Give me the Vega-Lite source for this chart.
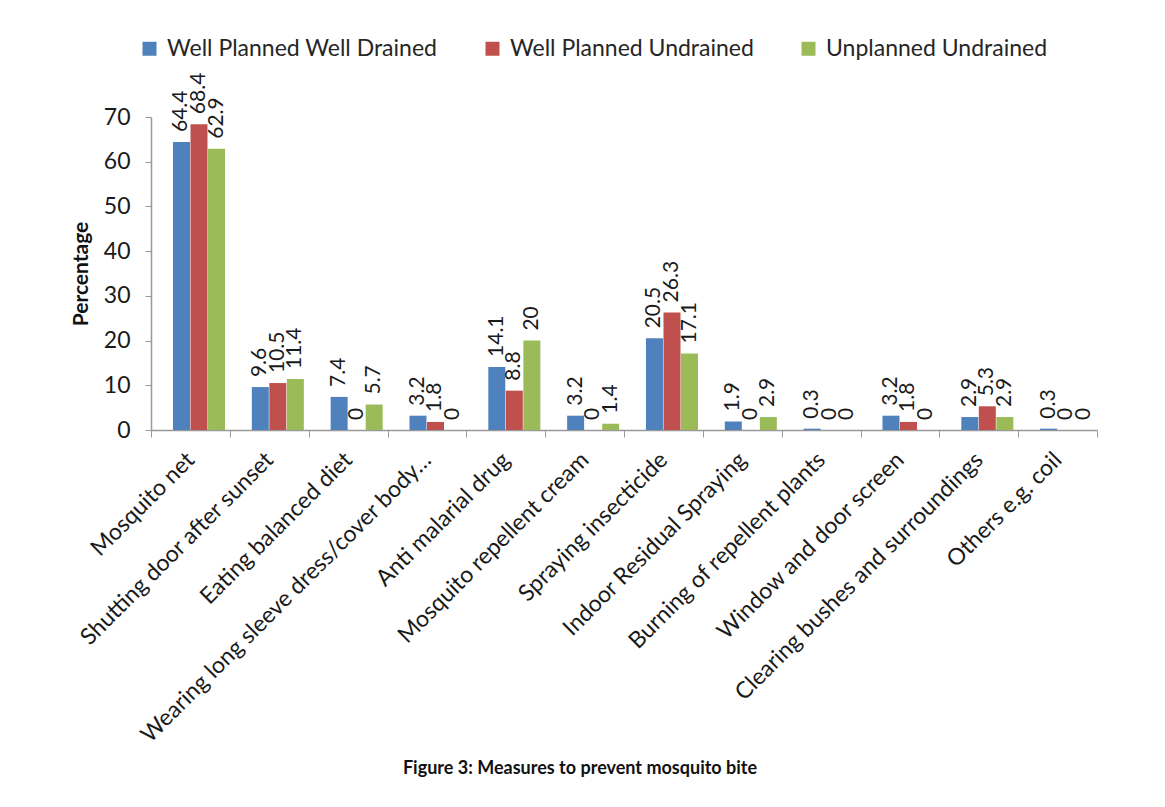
{
  "$schema": "https://vega.github.io/schema/vega-lite/v6.json",
  "width": 946,
  "height": 313,
  "autosize": {"type": "none"},
  "padding": {"left": 151, "top": 117, "right": 68, "bottom": 377},
  "background": "white",
  "config": {
    "font": "Lato",
    "view": {"stroke": null}
  },
  "title": {
    "text": "Figure 3:  Measures to prevent mosquito bite",
    "orient": "bottom",
    "anchor": "middle",
    "fontSize": 18,
    "fontWeight": "bold",
    "color": "#111",
    "offset": 13,
    "dx": -44
  },
  "data": {
    "values": [
      {"measure": "Mosquito net", "area": "Well Planned Well Drained", "value": 64.4},
      {"measure": "Mosquito net", "area": "Well Planned Undrained", "value": 68.4},
      {"measure": "Mosquito net", "area": "Unplanned Undrained", "value": 62.9},
      {"measure": "Shutting door after sunset", "area": "Well Planned Well Drained", "value": 9.6},
      {"measure": "Shutting door after sunset", "area": "Well Planned Undrained", "value": 10.5},
      {"measure": "Shutting door after sunset", "area": "Unplanned Undrained", "value": 11.4},
      {"measure": "Eating balanced diet", "area": "Well Planned Well Drained", "value": 7.4},
      {"measure": "Eating balanced diet", "area": "Well Planned Undrained", "value": 0},
      {"measure": "Eating balanced diet", "area": "Unplanned Undrained", "value": 5.7},
      {"measure": "Wearing long sleeve dress/cover body…", "area": "Well Planned Well Drained", "value": 3.2},
      {"measure": "Wearing long sleeve dress/cover body…", "area": "Well Planned Undrained", "value": 1.8},
      {"measure": "Wearing long sleeve dress/cover body…", "area": "Unplanned Undrained", "value": 0},
      {"measure": "Anti malarial drug", "area": "Well Planned Well Drained", "value": 14.1},
      {"measure": "Anti malarial drug", "area": "Well Planned Undrained", "value": 8.8},
      {"measure": "Anti malarial drug", "area": "Unplanned Undrained", "value": 20},
      {"measure": "Mosquito repellent cream", "area": "Well Planned Well Drained", "value": 3.2},
      {"measure": "Mosquito repellent cream", "area": "Well Planned Undrained", "value": 0},
      {"measure": "Mosquito repellent cream", "area": "Unplanned Undrained", "value": 1.4},
      {"measure": "Spraying insecticide", "area": "Well Planned Well Drained", "value": 20.5},
      {"measure": "Spraying insecticide", "area": "Well Planned Undrained", "value": 26.3},
      {"measure": "Spraying insecticide", "area": "Unplanned Undrained", "value": 17.1},
      {"measure": "Indoor Residual Spraying", "area": "Well Planned Well Drained", "value": 1.9},
      {"measure": "Indoor Residual Spraying", "area": "Well Planned Undrained", "value": 0},
      {"measure": "Indoor Residual Spraying", "area": "Unplanned Undrained", "value": 2.9},
      {"measure": "Burning of repellent plants", "area": "Well Planned Well Drained", "value": 0.3},
      {"measure": "Burning of repellent plants", "area": "Well Planned Undrained", "value": 0},
      {"measure": "Burning of repellent plants", "area": "Unplanned Undrained", "value": 0},
      {"measure": "Window and door screen", "area": "Well Planned Well Drained", "value": 3.2},
      {"measure": "Window and door screen", "area": "Well Planned Undrained", "value": 1.8},
      {"measure": "Window and door screen", "area": "Unplanned Undrained", "value": 0},
      {"measure": "Clearing bushes and surroundings", "area": "Well Planned Well Drained", "value": 2.9},
      {"measure": "Clearing bushes and surroundings", "area": "Well Planned Undrained", "value": 5.3},
      {"measure": "Clearing bushes and surroundings", "area": "Unplanned Undrained", "value": 2.9},
      {"measure": "Others e.g. coil", "area": "Well Planned Well Drained", "value": 0.3},
      {"measure": "Others e.g. coil", "area": "Well Planned Undrained", "value": 0},
      {"measure": "Others e.g. coil", "area": "Unplanned Undrained", "value": 0}
    ]
  },
  "encoding": {
    "x": {
      "field": "measure",
      "type": "nominal",
      "sort": null,
      "scale": {"paddingInner": 0, "paddingOuter": 0},
      "axis": {
        "title": null,
        "labelAngle": -45,
        "labelAlign": "right",
        "labelBaseline": "middle",
        "labelFontSize": 23,
        "labelColor": "#1a1a1a",
        "labelPadding": 19,
        "labelLimit": 600,
        "tickBand": "extent",
        "tickSize": 7,
        "tickColor": "#999",
        "domainColor": "#999",
        "domainWidth": 1.5
      }
    },
    "xOffset": {
      "field": "area",
      "type": "nominal",
      "sort": ["Well Planned Well Drained", "Well Planned Undrained", "Unplanned Undrained"],
      "scale": {"paddingInner": 0.03, "paddingOuter": 0.765, "align": 0.82}
    },
    "y": {
      "field": "value",
      "type": "quantitative",
      "scale": {"domain": [0, 70]},
      "axis": {
        "title": "Percentage",
        "titleFontSize": 21,
        "titleFontWeight": "bold",
        "titleColor": "#111",
        "titlePadding": 12,
        "values": [0, 10, 20, 30, 40, 50, 60, 70],
        "labelFontSize": 23,
        "labelColor": "#1a1a1a",
        "labelPadding": 15,
        "tickSize": 6,
        "tickColor": "#999",
        "domainColor": "#999",
        "domainWidth": 1.5,
        "grid": false
      }
    }
  },
  "layer": [
    {
      "mark": {"type": "bar", "stroke": null},
      "encoding": {
        "color": {
          "field": "area",
          "type": "nominal",
          "sort": ["Well Planned Well Drained", "Well Planned Undrained", "Unplanned Undrained"],
          "scale": {
            "domain": ["Well Planned Well Drained", "Well Planned Undrained", "Unplanned Undrained"],
            "range": ["#4F81BD", "#C0504D", "#9BBB59"]
          },
          "legend": {
            "title": null,
            "orient": "none",
            "direction": "horizontal",
            "legendX": -13,
            "legendY": -80,
            "symbolType": "square",
            "symbolSize": 196,
            "symbolStrokeWidth": 0,
            "labelFontSize": 23,
            "labelColor": "#262626",
            "labelLimit": 400,
            "columnPadding": 43,
            "labelOffset": 6
          }
        }
      }
    },
    {
      "mark": {"type": "text", "angle": 270, "align": "left", "baseline": "middle", "dx": 10, "fontSize": 21, "color": "#1a1a1a"},
      "encoding": {
        "text": {"field": "value", "type": "quantitative", "format": ".1~f"}
      }
    }
  ]
}
